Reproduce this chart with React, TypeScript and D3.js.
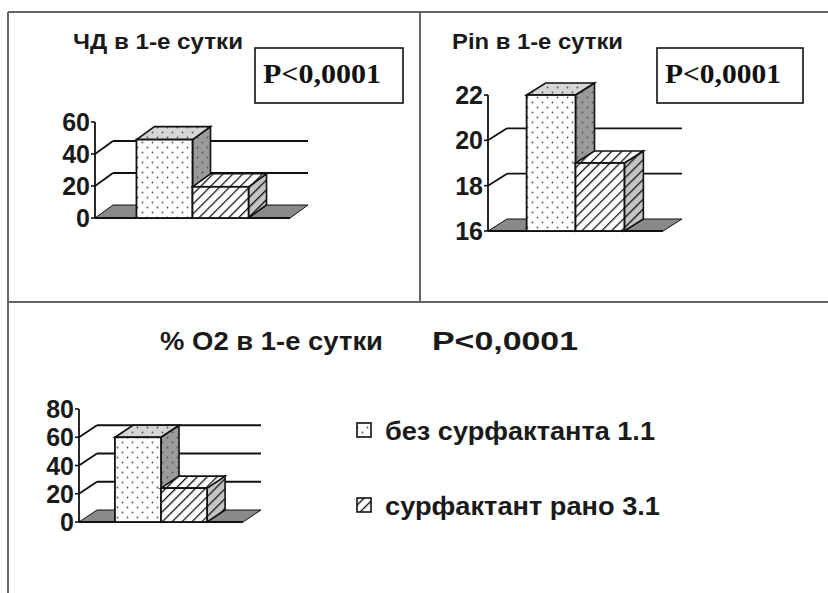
import React from "react";
import * as d3 from "d3";

// серии (общие для трёх графиков)
const series = ["без сурфактанта 1.1", "сурфактант рано 3.1"];

// ЧД в 1-е сутки
const rrTitle = "ЧД в 1-е сутки";
const rrValues = [49, 19.5];
const rrTicks = [0, 20, 40, 60];

// Pin в 1-е сутки
const pinTitle = "Pin в 1-е сутки";
const pinValues = [22, 19];
const pinTicks = [16, 18, 20, 22];

// % O2 в 1-е сутки
const o2Title = "% O2 в 1-е сутки";
const o2Values = [60, 24];
const o2Ticks = [0, 20, 40, 60, 80];

const pText = "P<0,0001";

const SANS = "'Liberation Sans', Arial, sans-serif";
const SERIF = "'Liberation Serif', 'Times New Roman', serif";

type ChartProps = {
  values: number[];
  ticks: number[];
  axisX: number;
  yTop: number;
  yBottom: number;
  floorRight: number;
  dx: number;
  dy: number;
  padOuter: number;
};

function Chart3D({ values, ticks, axisX, yTop, yBottom, floorRight, dx, dy, padOuter }: ChartProps) {
  const y = d3.scaleLinear().domain([ticks[0], ticks[ticks.length - 1]]).range([yBottom, yTop]);
  const x = d3.scaleBand<string>().domain(series).range([axisX, floorRight]).paddingInner(0).paddingOuter(padOuter);
  const y0 = y(ticks[0]);
  const inner = ticks.slice(1, -1);
  const line = d3.line();

  const floor = line([[axisX, y0], [axisX + dx, y0 + dy], [floorRight + dx, y0 + dy], [floorRight, y0]]) + "Z";

  return (
    <g>
      {/* линии сетки на задней стенке */}
      {inner.map((t) => (
        <g key={"g" + t}>
          <line x1={axisX + dx} x2={floorRight + dx} y1={y(t) + dy} y2={y(t) + dy} stroke="#111" strokeWidth={1.8} />
          <line x1={axisX} x2={axisX + dx} y1={y(t)} y2={y(t) + dy} stroke="#111" strokeWidth={1.8} />
        </g>
      ))}
      {/* пол */}
      <path d={floor} fill="#8a8a8a" stroke="#111" strokeWidth={1} />
      <line x1={axisX} x2={floorRight} y1={y0} y2={y0} stroke="#111" strokeWidth={2.2} />
      {/* ось */}
      <line x1={axisX} x2={axisX} y1={y(ticks[ticks.length - 1])} y2={y0} stroke="#111" strokeWidth={1.8} />
      {ticks.map((t) => (
        <g key={"t" + t}>
          <line x1={axisX - 4} x2={axisX} y1={y(t)} y2={y(t)} stroke="#111" strokeWidth={1.6} />
          <text x={axisX - 5} y={y(t)} dy="0.36em" textAnchor="end" fontFamily={SANS} fontWeight="bold" fontSize={25} fill="#1a1a1a">
            {t}
          </text>
        </g>
      ))}
      {/* столбики */}
      {values.map((v, i) => {
        const x0 = x(series[i]) as number;
        const x1 = x0 + x.bandwidth();
        const yt = y(v);
        const top = line([[x0, yt], [x0 + dx, yt + dy], [x1 + dx, yt + dy], [x1, yt]]) + "Z";
        const side = line([[x1, yt], [x1 + dx, yt + dy], [x1 + dx, y0 + dy], [x1, y0]]) + "Z";
        const pat = i === 0 ? "url(#dots)" : "url(#hatch)";
        return (
          <g key={"b" + i}>
            <path d={side} fill={i === 0 ? "#9a9a9a" : "#c4c4c4"} />
            <path d={side} fill={pat} stroke="#111" strokeWidth={1.6} />
            <path d={top} fill={i === 0 ? "#d6d6d6" : "#fff"} />
            <path d={top} fill={pat} stroke="#111" strokeWidth={1.6} />
            <rect x={x0} y={yt} width={x1 - x0} height={y0 - yt} fill="#fff" />
            <rect x={x0} y={yt} width={x1 - x0} height={y0 - yt} fill={pat} stroke="#111" strokeWidth={1.8} />
          </g>
        );
      })}
    </g>
  );
}

function PBox({ x, y, w, h }: { x: number; y: number; w: number; h: number }) {
  return (
    <g>
      <rect x={x} y={y} width={w} height={h} fill="#fff" stroke="#111" strokeWidth={1.6} />
      <text x={x + 8} y={y + 35} textLength={w - 30} lengthAdjust="spacingAndGlyphs" fontFamily={SERIF} fontWeight="bold" fontSize={28} fill="#111">
        {pText}
      </text>
    </g>
  );
}

function Label({ x, y, w, size, children }: { x: number; y: number; w: number; size: number; children: string }) {
  return (
    <text x={x} y={y} textLength={w} lengthAdjust="spacingAndGlyphs" fontFamily={SANS} fontWeight="bold" fontSize={size} fill="#1a1a1a">
      {children}
    </text>
  );
}

export default function App() {
  return (
    <svg width={828} height={593} style={{ position: "absolute", left: 0, top: 0, background: "#fff" }}>
      <defs>
        <pattern id="dots" width={10} height={10} patternUnits="userSpaceOnUse">
          <circle cx={2.5} cy={2.5} r={0.9} fill="#555" />
          <circle cx={7.5} cy={7.5} r={0.9} fill="#555" />
        </pattern>
        <pattern id="hatch" width={7} height={7} patternUnits="userSpaceOnUse" patternTransform="rotate(45)">
          <line x1={0} y1={0} x2={0} y2={7} stroke="#111" strokeWidth={2.6} />
        </pattern>
      </defs>

      {/* рамки */}
      <g stroke="#666" strokeWidth={2}>
        <line x1={8} x2={828} y1={12} y2={12} />
        <line x1={8} x2={8} y1={12} y2={593} />
        <line x1={420} x2={420} y1={12} y2={302} />
        <line x1={8} x2={828} y1={302} y2={302} />
      </g>

      {/* ЧД */}
      <Label x={73} y={49} w={170} size={22}>{rrTitle}</Label>
      <PBox x={255} y={48} w={148} h={55} />
      <Chart3D values={rrValues} ticks={rrTicks} axisX={95} yTop={122} yBottom={218} floorRight={290} dx={18} dy={-13} padOuter={0.74} />

      {/* Pin */}
      <Label x={452} y={49} w={171} size={22}>{pinTitle}</Label>
      <PBox x={657} y={48} w={146} h={55} />
      <Chart3D values={pinValues} ticks={pinTicks} axisX={488} yTop={95} yBottom={231} floorRight={663} dx={19} dy={-12} padOuter={0.79} />

      {/* % O2 */}
      <Label x={160} y={350} w={223} size={25}>{o2Title}</Label>
      <Label x={432} y={350} w={146} size={25}>{pText}</Label>
      <Chart3D values={o2Values} ticks={o2Ticks} axisX={79} yTop={409} yBottom={522} floorRight={243} dx={18} dy={-12} padOuter={0.78} />

      {/* легенда */}
      {series.map((s, i) => {
        const ly = i === 0 ? 430 : 505;
        return (
          <g key={s}>
            <rect x={357} y={ly - 7} width={14} height={14} fill="#fff" />
            <rect x={357} y={ly - 7} width={14} height={14} fill={i === 0 ? "url(#dots)" : "url(#hatch)"} stroke="#111" strokeWidth={1.6} />
            <Label x={385} y={ly + 10} w={i === 0 ? 270 : 275} size={25}>{s}</Label>
          </g>
        );
      })}
    </svg>
  );
}
